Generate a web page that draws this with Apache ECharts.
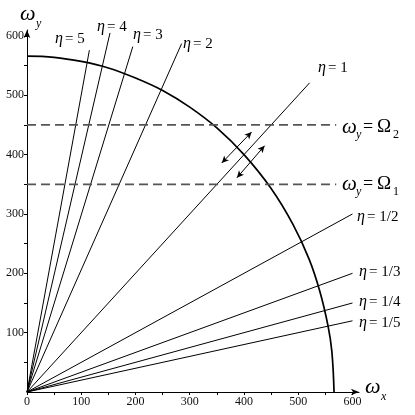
<!DOCTYPE html>
<html>
<head>
<meta charset="utf-8">
<script src="https://cdn.jsdelivr.net/npm/echarts@6/dist/echarts.min.js"></script>
<style>html,body{margin:0;padding:0;background:#fff}#c{width:415px;height:415px}</style>
</head>
<body>
<div id="c"></div>
<script>
// ---- data ----
const etaNames = ['5', '4', '3', '2', '1', '1/2', '1/3', '1/4', '1/5'];
const etaEnds = [[115, 576], [153, 605], [195, 582], [285, 587], [521, 521], [600, 300], [600, 200], [600, 150], [600, 120]];
const circlePts = [[0, 566], [50, 564], [100, 557], [150, 546], [200, 529], [250, 508], [300, 480], [350, 445], [400, 400], [450, 343], [490, 283], [520, 224], [540, 169], [555, 111], [562, 68], [566, 0]];
const omegaLevels = [450, 350];
const omegaNames = ['2', '1'];
const dashEndX = 570;
const arrowPairs = [[[359, 386], [414, 438]], [[387, 361], [438, 415]]];
const xTicks = [0, 50, 100, 150, 200, 250, 300, 350, 400, 450, 500, 550, 600];
const xLabels = [0, 100, 200, 300, 400, 500, 600];
const yTicks = [50, 100, 150, 200, 250, 300, 350, 400, 450, 500, 550, 600];
const yLabels = [100, 200, 300, 400, 500, 600];

const SERIF = '"Liberation Serif", "DejaVu Serif", serif';
const chart = echarts.init(document.getElementById('c'), null, {renderer: 'canvas'});

const series = [];
// circle arc
series.push({
  type: 'line', data: circlePts, smooth: 0.4, showSymbol: false, silent: true,
  lineStyle: {color: '#000', width: 1.7}, z: 3
});
// eta rays
etaEnds.forEach(e => {
  series.push({
    type: 'line', data: [[0, 0], e], showSymbol: false, silent: true,
    lineStyle: {color: '#000', width: 1}
  });
});
// dashed levels
omegaLevels.forEach(v => {
  series.push({
    type: 'line', data: [[0, v], [dashEndX, v]], showSymbol: false, silent: true,
    lineStyle: {color: '#555', width: 1.8, type: [9, 5]}
  });
});
// double arrows
series.push({
  type: 'line', data: [], silent: true,
  markLine: {
    silent: true, symbol: ['arrow', 'arrow'], symbolSize: [5, 7],
    label: {show: false},
    lineStyle: {color: '#000', width: 1, type: 'solid'},
    data: arrowPairs.map(p => [{coord: p[0]}, {coord: p[1]}])
  }
});

const axisCommon = {
  type: 'value', min: 0, interval: 50,
  splitLine: {show: false},
  axisLine: {show: true, symbol: ['none', 'arrow'], symbolSize: [5, 8], lineStyle: {color: '#000', width: 1}},
  axisTick: {show: true, length: 3, lineStyle: {color: '#000'}},
  axisLabel: {fontFamily: SERIF, fontSize: 12, color: '#111', margin: 3}
};

const option = {
  animation: false,
  backgroundColor: '#fff',
  grid: {left: 27, right: 56, top: 30, bottom: 23, containLabel: false},
  xAxis: Object.assign({}, axisCommon, {
    max: 612,
    axisTick: Object.assign({}, axisCommon.axisTick, {customValues: xTicks}),
    axisLabel: Object.assign({}, axisCommon.axisLabel, {customValues: xLabels, margin: 4})
  }),
  yAxis: Object.assign({}, axisCommon, {
    max: 610,
    axisTick: Object.assign({}, axisCommon.axisTick, {customValues: yTicks}),
    axisLabel: Object.assign({}, axisCommon.axisLabel, {customValues: yLabels})
  }),
  series: series
};
chart.setOption(option);

// ---- text labels ----
const etaLabelPos = [[55, 39], [97, 27], [133, 35], [183, 44], [318, 68], [357, 217], [359, 272], [359, 302], [359, 323]];
const g = [];
function txt(x, y, text, size, italic) {
  g.push({type: 'text', x: x, y: y, silent: true, style: {
    text: text, fontFamily: SERIF, fontSize: size, fontStyle: italic ? 'italic' : 'normal',
    fill: '#000', verticalAlign: 'middle', align: 'left'
  }});
}
etaNames.forEach((n, i) => {
  const p = etaLabelPos[i];
  txt(p[0], p[1], 'η', 16, true);
  txt(p[0] + 10, p[1], '= ' + n, 15, false);
});
// axis titles
txt(20, 14, 'ω', 22, true);
txt(36, 24, 'y', 12, true);
txt(365, 387, 'ω', 22, true);
txt(381, 397, 'x', 12, true);
// level labels
const levelY = [127, 184];
omegaNames.forEach((n, i) => {
  const y = levelY[i];
  txt(342, y, 'ω', 21, true);
  txt(356, y + 8, 'y', 12, true);
  txt(363, y, '=', 18, false);
  txt(377, y, 'Ω', 19, false);
  txt(393, y + 8, n, 12, false);
});
chart.setOption({graphic: g});
</script>
</body>
</html>
